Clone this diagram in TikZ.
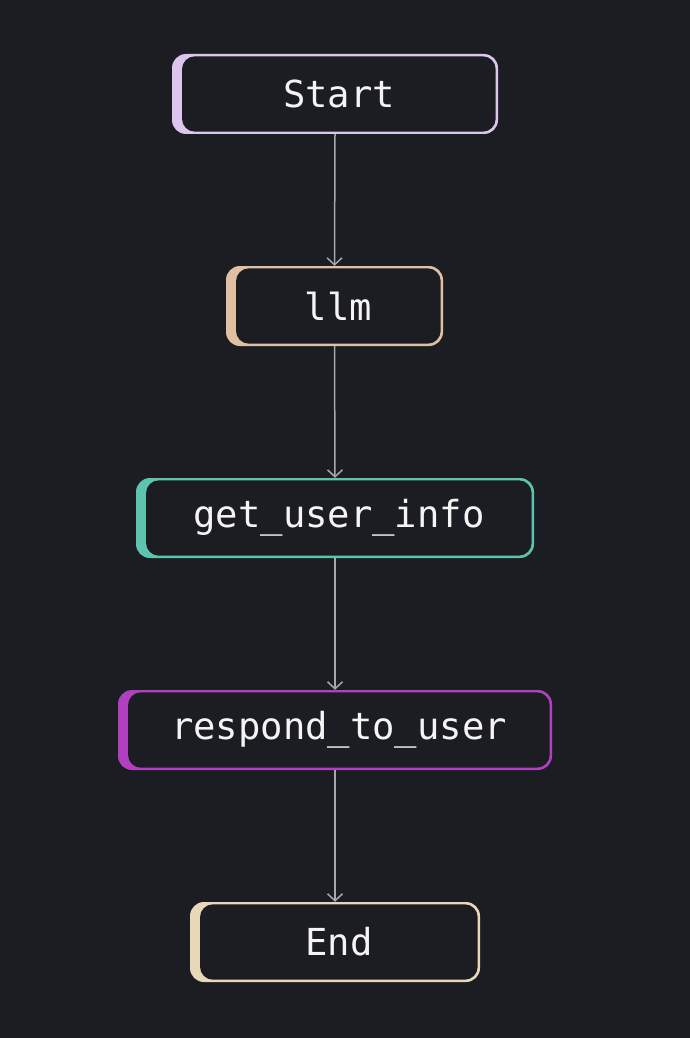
\documentclass[tikz,border=0pt]{standalone}
\usepackage{fontspec}
\setmonofont{DejaVu Sans Mono}
\usetikzlibrary{arrows.meta}
\definecolor{bgc}{HTML}{1B1D23}
\definecolor{startc}{HTML}{DCC6EE}
\definecolor{llmc}{HTML}{E0C0A0}
\definecolor{toolc}{HTML}{5EC4B0}
\definecolor{respc}{HTML}{B040C0}
\definecolor{endc}{HTML}{E8D8B8}
\definecolor{edgec}{HTML}{A8A8AC}
\definecolor{txtc}{HTML}{F4F4F4}
\tikzset{
  flowbox/.style={rounded corners=14pt, fill=#1, minimum height=80pt,
    inner sep=0pt, text=txtc,
    font=\ttfamily\fontsize{37.2}{42}\selectfont,
    execute at begin node={\hspace*{8pt}},
    path picture={\fill[bgc, rounded corners=13pt]
      ([xshift=10pt,yshift=-2.3pt]path picture bounding box.north west) rectangle
      ([xshift=-2.3pt,yshift=2.3pt]path picture bounding box.south east);}},
  flowedge/.style={draw=edgec, line width=1.5pt,
    -{Straight Barb[length=7pt,width=15pt,line width=1.5pt]}}
}
\begin{document}
\begin{tikzpicture}[x=1pt,y=-1pt]
\fill[bgc] (0,0) rectangle (690,1038);
\useasboundingbox (0,0) rectangle (690,1038);
\node[flowbox=startc, minimum width=326pt] (start) at (335,94) {Start};
\node[flowbox=llmc, minimum width=217pt] (llm) at (334.5,306) {llm};
\node[flowbox=toolc, minimum width=398pt] (info) at (335,518) {get\_user\_info};
\node[flowbox=respc, minimum width=434pt] (resp) at (335,730) {respond\_to\_user};
\node[flowbox=endc, minimum width=290pt] (end) at (335,942) {End};
\draw[flowedge] (start.south) -- (llm.north);
\draw[flowedge] (llm.south) -- (info.north);
\draw[flowedge] (info.south) -- (resp.north);
\draw[flowedge] (resp.south) -- (end.north);
\end{tikzpicture}
\end{document}
